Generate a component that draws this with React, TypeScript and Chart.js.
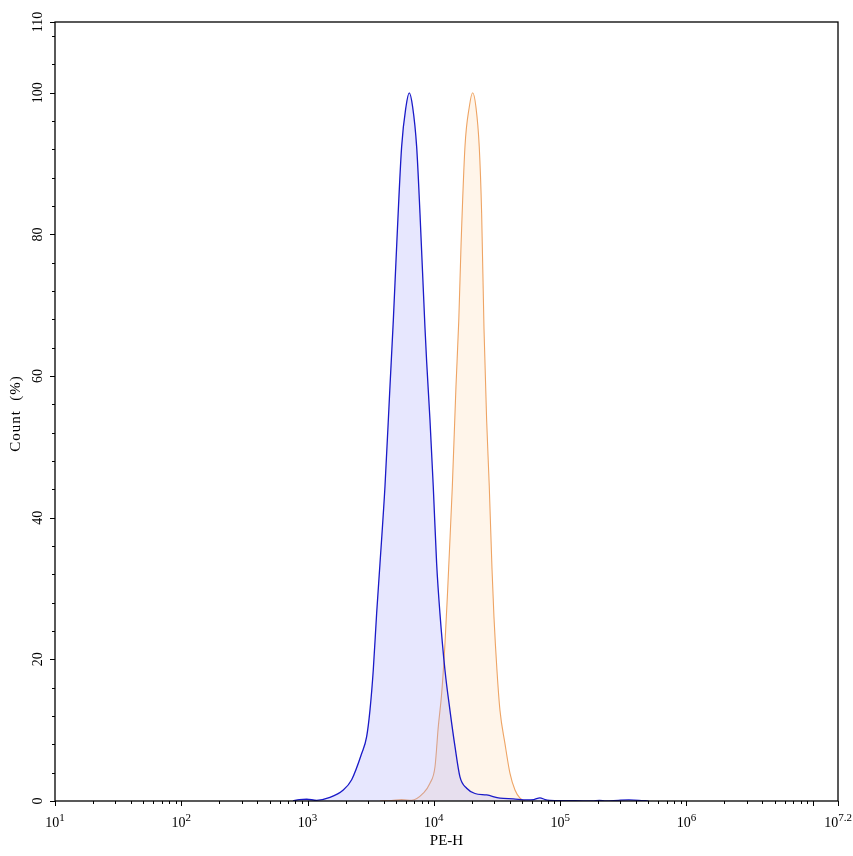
import { useEffect, useRef } from 'react'
import { Chart, registerables } from 'chart.js'

Chart.register(...registerables)

// PE-H channel values, with count in %
const blueX = [
  766, 860, 984, 1180, 1504, 1917, 2234, 2680, 2936, 3118, 3313, 3523, 3743, 4100, 4490, 4775, 5072,
  5556, 6010, 6385, 6792, 7305, 7762, 8505, 8770, 9315, 9890, 10520, 11170, 12240, 13410, 14690,
  16090, 18180, 21150, 26170, 33370, 42540, 54300, 62000, 69200, 76000, 83000, 99600, 130000,
  180000, 205000, 230000, 290000, 350000, 420000, 500000,
]
const blueY = [
  0, 0.2, 0.25, 0.1, 0.5, 1.55, 3.0, 6.7, 9.1, 12.8, 18.5, 26.5, 33.5, 44.4, 58.5, 67.9, 78.3,
  92.4, 98, 100, 98, 92.4, 83, 66.8, 62, 53.8, 44.4, 33.5, 26.5, 18.5, 12.8, 7.7,
  3.4, 1.8, 1.06, 0.85, 0.4, 0.3, 0.15, 0.2, 0.45, 0.2, 0.1, 0.05, 0.05,
  0, 0.1, 0, 0.1, 0.15, 0.1, 0,
]

const orangeX = [
  3743, 4600, 5556, 6670, 8240, 9315, 10200, 10840, 11530, 12240, 12820, 13180, 14000, 14960, 15750,
  16400, 17630, 19070, 20280, 21530, 22870, 23890, 24930, 26170, 27460, 28840, 29910, 31580, 33370,
  36560, 40060, 43880, 48080, 52650,
]
const orangeY = [
  0, 0.05, 0.2, 0.1, 1.1, 2.5, 4.8, 10.5, 15.2, 22.2, 29.3, 34, 44.4, 58.5, 67.9,
  78.3, 92.4, 98, 100, 98, 92.4, 83, 66.8, 53.8, 44.4, 32.9, 26, 18.5, 12.8,
  8.1, 3.9, 1.55, 0.4, 0,
]

const xMin = 10
const xMax = 10 ** 7.2
const xLabelValues = [1e1, 1e2, 1e3, 1e4, 1e5, 1e6, 10 ** 7.2]
const xLabelExponents = ['1', '2', '3', '4', '5', '6', '7.2']
const xUnlabelledMajor = [1e7]
const yLabelValues = [0, 20, 40, 60, 80, 100, 110]
const yMinorStep = 4

const xTitle = 'PE-H'
const yTitle = 'Count  (%)'

const serif = '"Liberation Serif", "Times New Roman", serif'

const frame = {
  id: 'frame',
  afterDraw(chart: Chart) {
    const { ctx, chartArea } = chart
    const xs = chart.scales.x
    const ys = chart.scales.y
    const { left, right, top, bottom } = chartArea

    ctx.save()
    ctx.strokeStyle = '#000'
    ctx.lineWidth = 1.3
    ctx.strokeRect(left, top, right - left, bottom - top)

    ctx.lineWidth = 1
    ctx.beginPath()
    // x ticks
    for (const v of [...xLabelValues, ...xUnlabelledMajor]) {
      const px = Math.round(xs.getPixelForValue(v)) + 0.5
      ctx.moveTo(px, bottom)
      ctx.lineTo(px, bottom + 5)
    }
    for (let k = 1; k < 8; k++) {
      for (let m = 2; m < 10; m++) {
        const v = m * 10 ** k
        if (v >= xMax) continue
        const px = Math.round(xs.getPixelForValue(v)) + 0.5
        ctx.moveTo(px, bottom)
        ctx.lineTo(px, bottom + 3)
      }
    }
    // y ticks
    for (const v of yLabelValues) {
      const py = Math.round(ys.getPixelForValue(v)) + 0.5
      ctx.moveTo(left, py)
      ctx.lineTo(left - 5, py)
    }
    for (let v = yMinorStep; v < 110; v += yMinorStep) {
      if (v % 20 === 0) continue
      const py = Math.round(ys.getPixelForValue(v)) + 0.5
      ctx.moveTo(left, py)
      ctx.lineTo(left - 3, py)
    }
    ctx.stroke()

    ctx.fillStyle = '#000'
    ctx.textBaseline = 'alphabetic'
    // x labels 10^n
    xLabelValues.forEach((v, i) => {
      const px = xs.getPixelForValue(v)
      ctx.font = `14px ${serif}`
      const wb = ctx.measureText('10').width
      ctx.font = `11px ${serif}`
      const we = ctx.measureText(xLabelExponents[i]).width
      const x0 = px - (wb + we) / 2
      ctx.font = `14px ${serif}`
      ctx.textAlign = 'left'
      ctx.fillText('10', x0, bottom + 26)
      ctx.font = `11px ${serif}`
      ctx.fillText(xLabelExponents[i], x0 + wb, bottom + 20)
    })

    // y labels, rotated
    ctx.font = `14px ${serif}`
    ctx.textAlign = 'center'
    for (const v of yLabelValues) {
      const py = ys.getPixelForValue(v)
      ctx.save()
      ctx.translate(left - 13, py)
      ctx.rotate(-Math.PI / 2)
      ctx.fillText(String(v), 0, 0)
      ctx.restore()
    }

    // titles
    ctx.font = `15px ${serif}`
    ctx.fillText(xTitle, (left + right) / 2, bottom + 44)
    ctx.save()
    ctx.font = `15px ${serif}`
    ;(ctx as any).letterSpacing = '1px'
    ctx.translate(20, (top + bottom) / 2 + 2)
    ctx.rotate(-Math.PI / 2)
    ctx.fillText(yTitle, 0, 0)
    ctx.restore()
    ctx.restore()
  },
}

export default function App() {
  const ref = useRef<HTMLCanvasElement>(null)

  useEffect(() => {
    if (!ref.current) return

    const chart = new Chart(ref.current, {
      type: 'line',
      data: {
        datasets: [
          {
            label: 'Sample',
            data: blueX.map((x, i) => ({ x, y: blueY[i] })),
            borderColor: '#1a1ac8',
            backgroundColor: 'rgba(160, 160, 250, 0.25)',
            borderWidth: 1.3,
            fill: 'origin',
            pointRadius: 0,
            tension: 0.3,
            cubicInterpolationMode: 'monotone',
          },
          {
            label: 'Control',
            data: orangeX.map((x, i) => ({ x, y: orangeY[i] })),
            borderColor: '#eea464',
            backgroundColor: 'rgba(255, 215, 170, 0.25)',
            borderWidth: 1.1,
            fill: 'origin',
            pointRadius: 0,
            tension: 0.3,
            cubicInterpolationMode: 'monotone',
          },
        ],
      },
      options: {
        animation: false,
        responsive: true,
        maintainAspectRatio: false,
        layout: { padding: { left: 55, top: 22, right: 15, bottom: 55 } },
        plugins: {
          legend: { display: false },
          tooltip: { enabled: false },
        },
        scales: {
          x: { type: 'logarithmic', min: xMin, max: xMax, display: false },
          y: { type: 'linear', min: 0, max: 110, display: false },
        },
      },
      plugins: [frame],
    })

    return () => chart.destroy()
  }, [])

  return (
    <div style={{ position: 'absolute', left: 0, top: 0, width: 853, height: 856, background: '#fff' }}>
      <canvas ref={ref} />
    </div>
  )
}
